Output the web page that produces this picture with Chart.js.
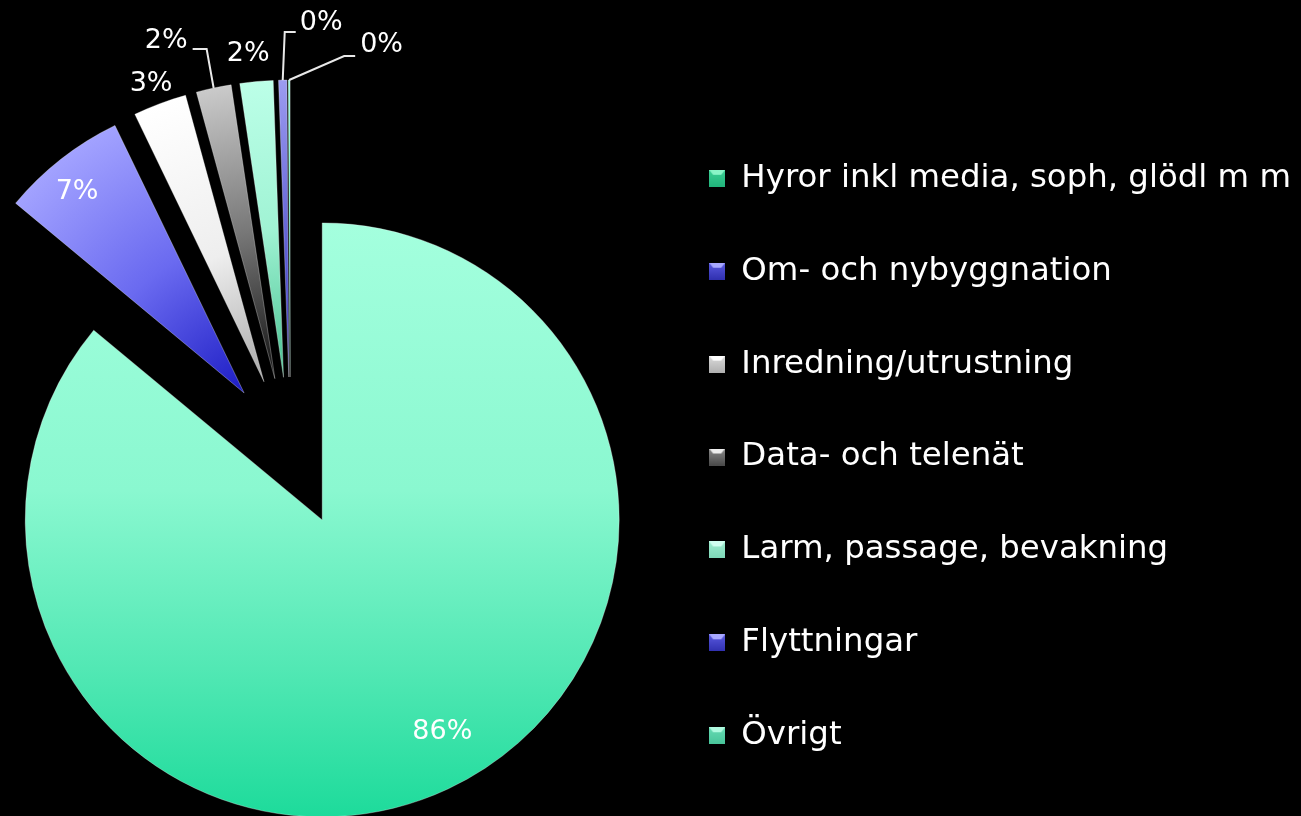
<!DOCTYPE html>
<html>
<head>
<meta charset="utf-8">
<script src="https://cdn.jsdelivr.net/npm/chart.js@4.4.1/dist/chart.umd.min.js"></script>
<style>
  html, body { margin: 0; padding: 0; background: #000; overflow: hidden; }
  /* el lienzo se corre a la izquierda para centrar la torta donde va */
  #wrap { position: absolute; left: -68px; top: 0; width: 1369px; height: 816px; }
</style>
</head>
<body>
<div id="wrap"><canvas id="myChart"></canvas></div>
<script>
// Datos ------------------------------------------------------------
const categorias = [
  'Hyror inkl media, soph, glödl m m',
  'Om- och nybyggnation',
  'Inredning/utrustning',
  'Data- och telenät',
  'Larm, passage, bevakning',
  'Flyttningar',
  'Övrigt'
];
const valores = [85.9, 6.8, 2.9, 1.9, 1.8, 0.45, 0.1];

// Colores (punta -> borde exterior)
const gradStops = [
  null, // el primero usa gradiente vertical
  [[0, '#1c1cc4'], [0.5, '#6a6af0'], [1, '#a2a2ff']],
  [[0, '#a8a8a8'], [0.45, '#eeeeee'], [1, '#ffffff']],
  [[0, '#101010'], [0.5, '#777777'], [1, '#cacaca']],
  [[0, '#48c090'], [0.5, '#a0f3d4'], [1, '#bcffe8']],
  [[0, '#3030c0'], [1, '#9c9cf0']],
  [[0, '#1ddb9b'], [1, '#a2ffdd']]
];
// cuadros de leyenda: [arriba, cuerpo, abajo]
const colorLeyenda = [
  ['#8af5c8', '#3ccf95', '#22b57c'],
  ['#a8a8ff', '#5a5ae0', '#3030b0'],
  ['#ffffff', '#dcdcdc', '#b0b0b0'],
  ['#eeeeee', '#8a8a8a', '#4a4a4a'],
  ['#d0fff0', '#9eeed0', '#7ed8b8'],
  ['#a8a8ff', '#5a5ae0', '#3030b0'],
  ['#b0fae0', '#66dcb4', '#48c49a']
];

// Posicion de etiquetas (r = fraccion del radio, da = ajuste de angulo en grados)
const etiquetaPos = [
  { r: 0.82, da: -4.4 },
  { r: 0.88, da: -1.7 },
  { r: 1.073, da: -0.2 },
  { linea: [[-7, -39], [-21, -39]], align: 'right', tx: -26, ty: -47 },
  { r: 1.095, da: -1 },
  { linea: [[2, -48], [13, -48]], align: 'left', tx: 17, ty: -57 },
  { linea: [[55, -24], [66, -24]], align: 'left', tx: 71, ty: -35 }
];

const RADIO = 297;
const EXPLOSION = 75;

function colorSlice(context) {
  const i = context.dataIndex;
  const chart = context.chart;
  const area = chart.chartArea;
  if (!area) return colorLeyenda[i][1];
  const cx = (area.left + area.right) / 2;
  const cy = (area.top + area.bottom) / 2;
  const c = chart.ctx;
  let g;
  if (i === 0) {
    g = c.createLinearGradient(0, cy - RADIO, 0, cy + RADIO);
    g.addColorStop(0, '#a4ffde');
    g.addColorStop(0.45, '#8af8d0');
    g.addColorStop(0.75, '#52e8b4');
    g.addColorStop(1, '#1ddb9b');
    return g;
  }
  g = c.createRadialGradient(cx, cy, 0, cx, cy, RADIO);
  gradStops[i].forEach(s => g.addColorStop(s[0], s[1]));
  return g;
}

// cuadrito biselado para la leyenda
function cuadro(col) {
  const cv = document.createElement('canvas');
  cv.width = 16; cv.height = 17;
  const c = cv.getContext('2d');
  const g = c.createLinearGradient(0, 0, 0, 17);
  g.addColorStop(0, col[1]);
  g.addColorStop(1, col[2]);
  c.fillStyle = g;
  c.fillRect(0, 0, 16, 17);
  c.fillStyle = col[0];
  c.beginPath();
  c.moveTo(0, 0); c.lineTo(16, 0); c.lineTo(12, 5); c.lineTo(4, 5);
  c.closePath();
  c.fill();
  return cv;
}
const cuadros = colorLeyenda.map(cuadro);

// Torta explotada: cada arco se dibuja corrido sobre su bisectriz
const explotar = {
  id: 'explotar',
  beforeDatasetsDraw(chart) {
    const c = chart.ctx;
    const meta = chart.getDatasetMeta(0);
    meta.data.forEach(arc => {
      const mid = (arc.startAngle + arc.endAngle) / 2;
      c.save();
      c.translate(Math.cos(mid) * EXPLOSION, Math.sin(mid) * EXPLOSION);
      arc.draw(c);
      c.restore();
    });
    return false;
  },
  afterDraw(chart) {
    const c = chart.ctx;
    const meta = chart.getDatasetMeta(0);
    const total = valores.reduce((a, b) => a + b, 0);
    c.save();
    c.font = '27px "DejaVu Sans", Verdana, sans-serif';
    c.fillStyle = '#ffffff';
    c.textBaseline = 'middle';
    meta.data.forEach((arc, i) => {
      const mid = (arc.startAngle + arc.endAngle) / 2;
      const R = arc.outerRadius;
      const bx = arc.x + Math.cos(mid) * EXPLOSION;
      const by = arc.y + Math.sin(mid) * EXPLOSION;
      const txt = Math.round(valores[i] / total * 100) + '%';
      const pos = etiquetaPos[i];
      if (pos.r) {
        const a = mid + pos.da * Math.PI / 180;
        c.textAlign = 'center';
        c.fillText(txt, bx + Math.cos(a) * R * pos.r, by + Math.sin(a) * R * pos.r);
      } else {
        const ax = bx + Math.cos(mid) * R;
        const ay = by + Math.sin(mid) * R;
        c.strokeStyle = '#e8e8e8';
        c.lineWidth = 2;
        c.beginPath();
        c.moveTo(ax, ay);
        pos.linea.forEach(d => c.lineTo(ax + d[0], ay + d[1]));
        c.stroke();
        c.textAlign = pos.align;
        c.fillText(txt, ax + pos.tx, ay + pos.ty);
      }
    });
    c.restore();
  }
};

const ctx1 = document.getElementById('myChart');

const chartPie = new Chart(ctx1, {
  type: 'pie',
  data: {
    labels: categorias,
    datasets: [{
      data: valores,
      backgroundColor: colorSlice,
      borderColor: 'rgba(255,255,255,0.3)',
      borderWidth: 1,
      radius: RADIO
    }]
  },
  options: {
    responsive: true,
    maintainAspectRatio: false,
    animation: false,
    radius: RADIO,
    layout: {
      padding: { top: 88, left: 0, right: 0, bottom: 0 }
    },
    plugins: {
      tooltip: { enabled: false },
      legend: {
        display: true,
        position: 'right',
        align: 'center',
        // titulo vacio: solo baja un poco la columna de la leyenda
        title: { display: true, text: '', padding: 0, font: { size: 8, lineHeight: 1.25 } },
        labels: {
          color: '#ffffff',
          boxWidth: 16,
          boxHeight: 16,
          usePointStyle: true,
          padding: 60.5,
          font: { family: '"DejaVu Sans", Verdana, sans-serif', size: 32.4 },
          generateLabels: () => categorias.map((t, i) => ({
            text: t,
            fillStyle: colorLeyenda[i][1],
            strokeStyle: colorLeyenda[i][1],
            lineWidth: 0,
            pointStyle: cuadros[i],
            fontColor: '#ffffff',
            hidden: false,
            index: i
          }))
        }
      }
    }
  },
  plugins: [explotar]
});
</script>
</body>
</html>
